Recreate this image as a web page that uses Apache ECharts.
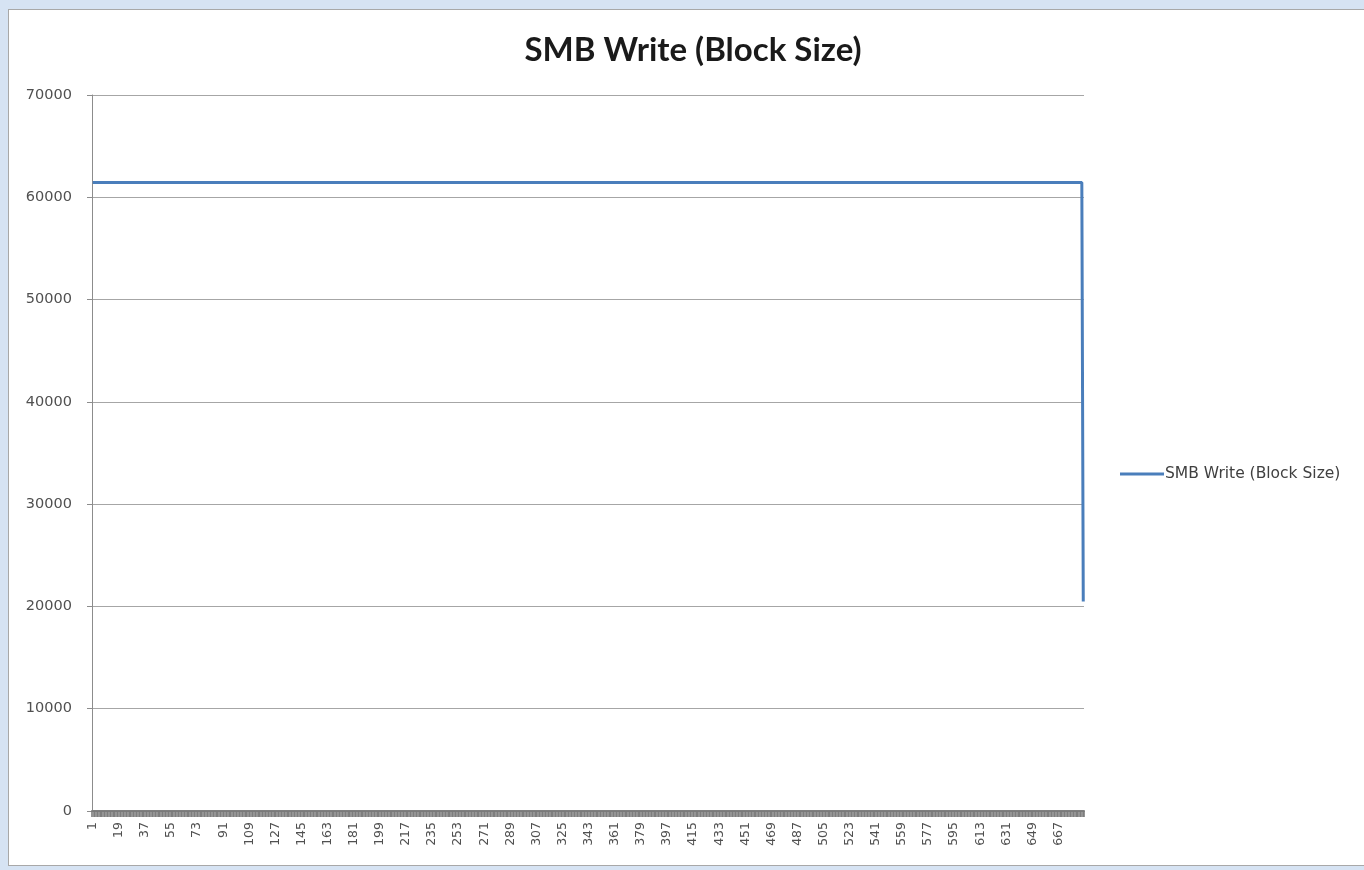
<!DOCTYPE html>
<html>
<head>
<meta charset="utf-8">
<title>SMB Write (Block Size)</title>
<script src="https://cdn.jsdelivr.net/npm/echarts@6/dist/echarts.min.js"></script>
<style>
  html, body { margin: 0; padding: 0; width: 1364px; height: 870px; background: #d6e3f3; overflow: hidden; }
  #frame { position: absolute; left: 8px; top: 9px; width: 1360px; height: 857px; background: #ffffff; border: 1px solid #a8a8a8; box-sizing: border-box; }
  #chart { position: absolute; left: 0; top: 0; width: 1364px; height: 870px; }
</style>
</head>
<body>
<div id="frame"></div>
<div id="chart"></div>
<script>
// Block size per sample: runs of [sample count, bytes]
const blockSizeRuns = [
  [683, 61440],
  [1, 20480]
];
const seriesName = 'SMB Write (Block Size)';
const yTicks = [0, 10000, 20000, 30000, 40000, 50000, 60000, 70000];

// Expand the runs into one value per sample; samples are numbered from 1
const blockSize = [];
blockSizeRuns.forEach(function (run) {
  for (let i = 0; i < run[0]; i++) blockSize.push(run[1]);
});
const samples = blockSize.map(function (_, i) { return String(i + 1); });

const chart = echarts.init(document.getElementById('chart'), null, { renderer: 'canvas' });
chart.setOption({
  animation: false,
  backgroundColor: 'transparent',
  title: {
    text: seriesName,
    left: 688,
    textAlign: 'center',
    top: 29,
    textStyle: { fontFamily: 'Lato', fontWeight: 'bold', fontSize: 33, color: '#1a1a1a' }
  },
  legend: {
    data: [seriesName],
    left: 1115,
    top: 461,
    icon: 'rect',
    itemWidth: 44,
    itemHeight: 3,
    itemGap: 4,
    textStyle: { fontFamily: 'DejaVu Sans', fontSize: 15.5, color: '#404040', padding: [0, 0, 0, -4] }
  },
  grid: { left: 92, right: 280, top: 95, bottom: 59, containLabel: false },
  xAxis: {
    type: 'category',
    data: samples,
    boundaryGap: true,
    axisLine: { show: true, lineStyle: { color: '#7f7f7f', width: 2 } },
    axisTick: { show: true, interval: 0, length: 6, inside: false, lineStyle: { color: '#7a7a7a', width: 1.6 } },
    axisLabel: {
      interval: 17,
      rotate: 90,
      margin: 11,
      fontFamily: 'DejaVu Sans',
      fontSize: 12.5,
      color: '#505050'
    },
    splitLine: { show: false }
  },
  yAxis: {
    type: 'value',
    min: yTicks[0],
    max: yTicks[yTicks.length - 1],
    interval: yTicks[1] - yTicks[0],
    axisLine: { show: true, lineStyle: { color: '#8c8c8c', width: 1 } },
    axisTick: { show: true, length: 5, lineStyle: { color: '#8c8c8c' } },
    axisLabel: {
      margin: 20,
      fontFamily: 'DejaVu Sans',
      fontSize: 14.5,
      color: '#505050',
      formatter: function (v) { return String(v); }
    },
    splitLine: { show: true, lineStyle: { color: '#a6a6a6', width: 1 } }
  },
  series: [{
    name: seriesName,
    type: 'line',
    data: blockSize,
    showSymbol: false,
    symbol: 'none',
    lineStyle: { color: '#4a7ebb', width: 3 },
    itemStyle: { color: '#4a7ebb' }
  }]
});
</script>
</body>
</html>
